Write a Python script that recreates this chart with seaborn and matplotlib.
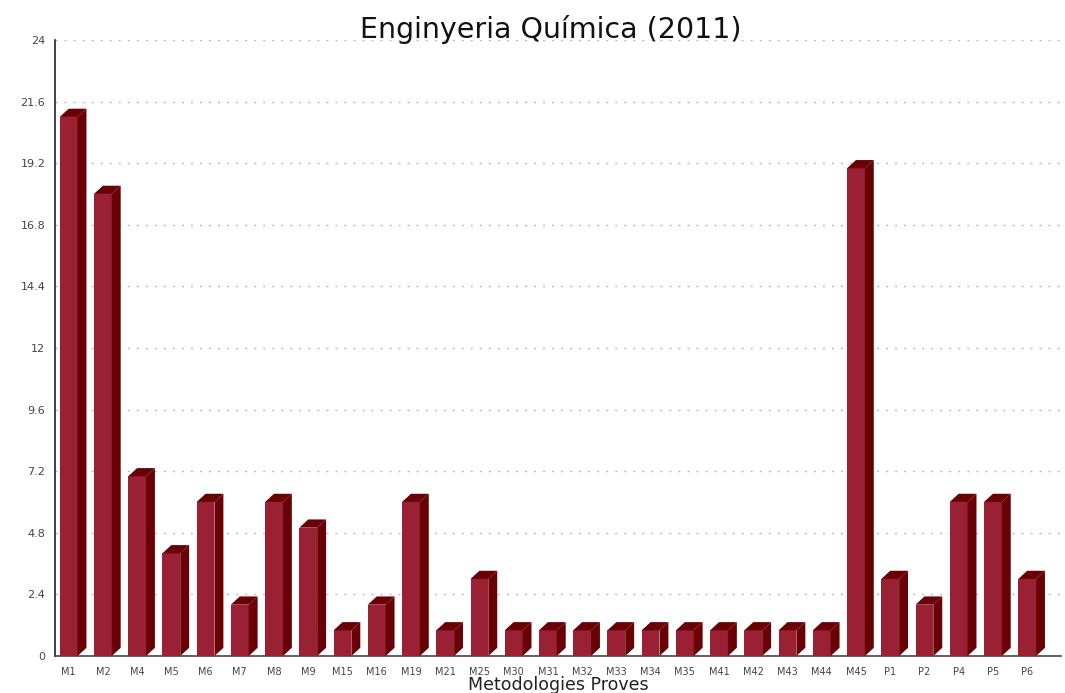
import matplotlib
matplotlib.use('Agg')
import matplotlib.pyplot as plt
from matplotlib.patches import Polygon
import seaborn as sns

categories = ['M1', 'M2', 'M4', 'M5', 'M6', 'M7', 'M8', 'M9', 'M15', 'M16',
              'M19', 'M21', 'M25', 'M30', 'M31', 'M32', 'M33', 'M34', 'M35',
              'M41', 'M42', 'M43', 'M44', 'M45', 'P1', 'P2', 'P4', 'P5', 'P6']
values = [21, 18, 7, 4, 6, 2, 6, 5, 1, 2,
          6, 1, 3, 1, 1, 1, 1, 1, 1,
          1, 1, 1, 1, 19, 3, 2, 6, 6, 3]
y_ticks = [0, 2.4, 4.8, 7.2, 9.6, 12, 14.4, 16.8, 19.2, 21.6, 24]
y_labels = ['0', '2.4', '4.8', '7.2', '9.6', '12', '14.4', '16.8', '19.2', '21.6', '24']

front_color = '#9a2033'
dark_color = '#680006'

sns.set_style('white')
fig = plt.figure(figsize=(10.65, 6.93), dpi=100)
ax = fig.add_axes([0.0516, 0.0534, 0.945, 0.889])

sns.barplot(x=categories, y=values, color=front_color, width=0.52,
            saturation=1, linewidth=0, edgecolor='none', ax=ax, zorder=3)

# fake 3D depth: dark side and top faces for each bar
dx, dy = 0.26, 0.32
for p in list(ax.patches):
    x0 = p.get_x()
    x1 = x0 + p.get_width()
    h = p.get_height()
    top = Polygon([(x0, h), (x0 + dx, h + dy), (x1 + dx, h + dy), (x1, h)],
                  closed=True, facecolor=dark_color, edgecolor='none', zorder=3)
    side = Polygon([(x1, h), (x1 + dx, h + dy), (x1 + dx, dy), (x1, 0)],
                   closed=True, facecolor=dark_color, edgecolor='none', zorder=3)
    ax.add_patch(top)
    ax.add_patch(side)

ax.set_xlim(-0.4, 29.0)
ax.set_ylim(0, 24)
ax.set_yticks(y_ticks)
ax.set_yticklabels(y_labels)
ax.yaxis.grid(True, linestyle=(0, (1.5, 5)), color='#bbbbbb', linewidth=1)
ax.set_axisbelow(True)

for s in ['top', 'right']:
    ax.spines[s].set_visible(False)
ax.spines['left'].set_color('#222222')
ax.spines['bottom'].set_color('#444444')
ax.spines['left'].set_linewidth(1.2)
ax.spines['bottom'].set_linewidth(1.2)

ax.tick_params(axis='y', direction='inout', length=10, width=1.2, color='#222222',
               labelsize=8, labelcolor='#444444', pad=2)
ax.tick_params(axis='x', length=0, labelsize=7, labelcolor='#444444', pad=8)

ax.set_xlabel('Metodologies Proves', fontsize=12.5, color='#222222', labelpad=-1)
ax.set_ylabel('')
fig.text(0.517, 0.957, 'Enginyeria Química (2011)', ha='center', va='center',
         fontsize=20.5, color='#111111')

fig.savefig('out.png', dpi=100)
